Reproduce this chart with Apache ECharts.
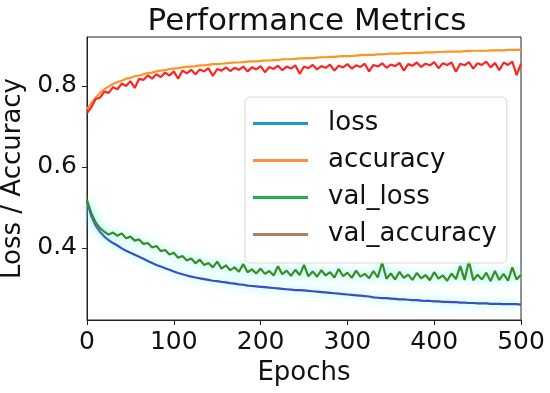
<!DOCTYPE html>
<html>
<head>
<meta charset="utf-8">
<script src="https://cdn.jsdelivr.net/npm/echarts@6/dist/echarts.min.js"></script>
<style>html,body{margin:0;padding:0;background:#fff}#c{width:550px;height:393px}</style>
</head>
<body>
<div id="c"></div>
<script>
// Epochs sampled every 5 from 0 to 500
const epochStep = 5;
const xTicks = [0, 100, 200, 300, 400, 500];
const yTicks = [0.4, 0.6, 0.8];
const seriesNames = ['loss', 'accuracy', 'val_loss', 'val_accuracy'];

const loss = [0.515,0.478,0.455,0.440,0.428,0.419,0.412,0.406,0.399,0.393,0.388,0.383,0.378,0.373,0.368,0.363,0.358,0.354,0.350,0.346,0.342,0.338,0.335,0.332,0.329,0.327,0.325,0.323,0.321,0.319,0.318,0.316,0.315,0.313,0.312,0.310,0.309,0.307,0.306,0.305,0.304,0.303,0.302,0.301,0.300,0.299,0.298,0.297,0.296,0.296,0.295,0.294,0.293,0.292,0.291,0.290,0.289,0.288,0.287,0.286,0.285,0.284,0.283,0.282,0.281,0.280,0.278,0.277,0.276,0.276,0.275,0.274,0.273,0.273,0.272,0.271,0.271,0.270,0.269,0.269,0.268,0.268,0.267,0.267,0.266,0.266,0.265,0.265,0.264,0.264,0.263,0.263,0.263,0.262,0.262,0.262,0.261,0.261,0.261,0.261,0.260];

const accuracy = [0.742,0.758,0.771,0.783,0.792,0.799,0.805,0.810,0.813,0.818,0.820,0.824,0.826,0.829,0.832,0.833,0.836,0.838,0.839,0.842,0.843,0.844,0.846,0.847,0.848,0.849,0.851,0.851,0.852,0.854,0.854,0.855,0.856,0.857,0.858,0.858,0.859,0.860,0.861,0.861,0.862,0.863,0.863,0.864,0.864,0.866,0.866,0.866,0.867,0.868,0.868,0.869,0.869,0.870,0.871,0.871,0.872,0.872,0.873,0.874,0.874,0.874,0.875,0.876,0.877,0.877,0.877,0.878,0.878,0.879,0.880,0.880,0.880,0.881,0.881,0.881,0.882,0.882,0.883,0.883,0.883,0.884,0.884,0.885,0.885,0.885,0.885,0.886,0.886,0.887,0.887,0.887,0.887,0.888,0.888,0.888,0.888,0.889,0.889,0.889,0.890];

const val_loss = [0.518,0.486,0.463,0.449,0.440,0.433,0.438,0.430,0.436,0.424,0.428,0.418,0.421,0.410,0.412,0.401,0.405,0.392,0.395,0.384,0.388,0.376,0.380,0.369,0.374,0.362,0.371,0.358,0.363,0.352,0.366,0.349,0.357,0.345,0.352,0.341,0.360,0.340,0.347,0.337,0.349,0.336,0.343,0.332,0.355,0.335,0.344,0.331,0.346,0.333,0.358,0.330,0.342,0.329,0.345,0.332,0.340,0.327,0.348,0.330,0.339,0.326,0.344,0.329,0.336,0.325,0.343,0.327,0.364,0.324,0.337,0.322,0.341,0.326,0.334,0.321,0.338,0.325,0.333,0.320,0.340,0.324,0.332,0.319,0.337,0.323,0.355,0.321,0.368,0.320,0.334,0.322,0.339,0.318,0.343,0.321,0.336,0.319,0.352,0.322,0.334];

const val_accuracy = [0.733,0.748,0.768,0.771,0.786,0.783,0.797,0.792,0.806,0.800,0.812,0.795,0.818,0.815,0.826,0.818,0.829,0.822,0.833,0.826,0.836,0.818,0.838,0.831,0.840,0.829,0.841,0.836,0.844,0.825,0.842,0.838,0.846,0.837,0.845,0.840,0.848,0.836,0.846,0.841,0.849,0.834,0.847,0.842,0.850,0.839,0.848,0.843,0.851,0.830,0.848,0.844,0.852,0.841,0.849,0.845,0.853,0.838,0.850,0.846,0.854,0.843,0.851,0.847,0.855,0.836,0.852,0.848,0.856,0.845,0.853,0.849,0.857,0.838,0.854,0.850,0.858,0.847,0.855,0.851,0.859,0.844,0.856,0.852,0.858,0.835,0.855,0.851,0.859,0.843,0.856,0.852,0.860,0.846,0.857,0.839,0.858,0.852,0.860,0.827,0.855];

const plotColors = ['#3a4ec4', '#ff9420', '#3e8c1e', '#ff2424'];
const legendColors = ['#1f96c8', '#ff8c40', '#20b050', '#a88062'];
const glow = [true, false, true, false];

function pairs(vals) {
  return vals.map((v, i) => [i * epochStep, v]);
}
const allData = [loss, accuracy, val_loss, val_accuracy];
const FONT = 'DejaVu Sans';

const chart = echarts.init(document.getElementById('c'), null, {renderer: 'canvas'});
chart.setOption({
  animation: false,
  backgroundColor: '#fff',
  title: {
    text: 'Performance Metrics',
    left: 302, textAlign: 'center', top: 1,
    textStyle: {fontFamily: FONT, fontSize: 31, fontWeight: 'normal', color: '#111'}
  },
  grid: {left: 87, right: 29, top: 37, bottom: 73, outerBoundsMode: 'none', containLabel: false,
    show: true, borderColor: '#222', borderWidth: 1, backgroundColor: 'transparent'},
  xAxis: {
    type: 'value', min: 0, max: 500, interval: 100,
    name: 'Epochs', nameLocation: 'middle', nameGap: 40,
    nameTextStyle: {fontFamily: FONT, fontSize: 26, color: '#111'},
    axisLine: {show: true, lineStyle: {color: '#222', width: 1}},
    axisTick: {show: true, inside: false, length: 5, lineStyle: {color: '#222'}},
    axisLabel: {fontFamily: FONT, fontSize: 25, color: '#111', margin: 10},
    splitLine: {show: false}
  },
  yAxis: {
    type: 'value', min: 0.222, max: 0.921,
    name: 'Loss / Accuracy', nameLocation: 'middle', nameGap: 55,
    nameTextStyle: {fontFamily: FONT, fontSize: 26, color: '#111'},
    axisLine: {show: true, lineStyle: {color: '#222', width: 1}},
    axisTick: {show: true, inside: false, length: 5, lineStyle: {color: '#222'}, customValues: yTicks},
    axisLabel: {fontFamily: FONT, fontSize: 25, color: '#111', margin: 10, customValues: yTicks, formatter: v => v.toFixed(1)},
    splitLine: {show: false}
  },
  legend: {
    orient: 'vertical', left: 245, top: 97,
    padding: [12, 10, 14, 8],
    icon: 'rect',
    itemWidth: 55, itemHeight: 3, itemGap: 8,
    backgroundColor: 'rgba(255,255,255,0.85)',
    borderColor: '#d8d8d8', borderWidth: 1, borderRadius: 5,
    textStyle: {fontFamily: FONT, fontSize: 26, lineHeight: 29, color: '#111', padding: [0, 0, 0, 15]},
    data: seriesNames.map((n, i) => ({name: n, itemStyle: {color: legendColors[i]}}))
  },
  series: seriesNames.map((n, i) => ({
    name: n, type: 'line', data: pairs(allData[i]), symbol: 'none',
    lineStyle: Object.assign({color: plotColors[i], width: 2.2},
      glow[i] ? {shadowColor: 'rgba(110,245,255,1)', shadowBlur: 10} : {}),
    itemStyle: {color: plotColors[i]}
  }))
});
</script>
</body>
</html>
